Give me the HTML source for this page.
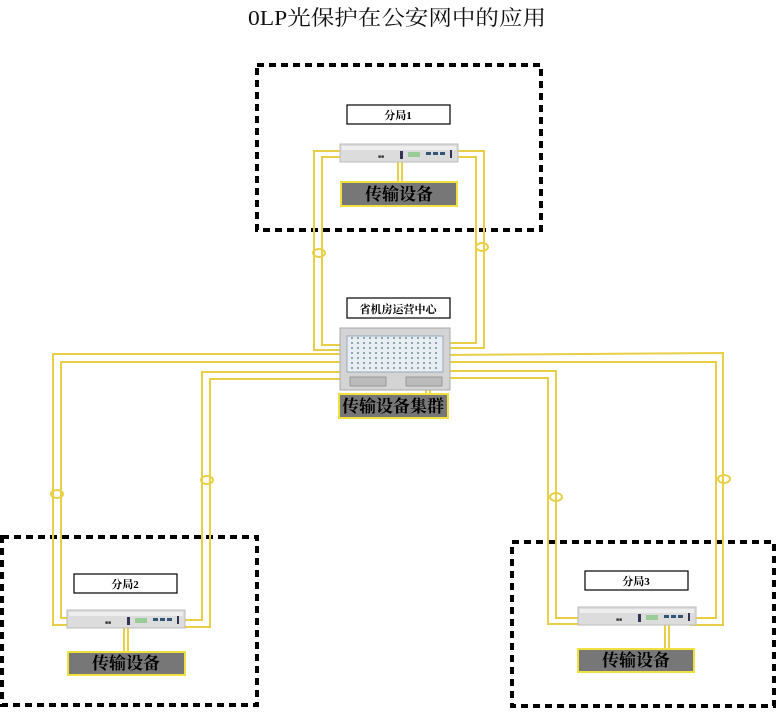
<!DOCTYPE html>
<html><head><meta charset="utf-8"><style>
html,body{margin:0;padding:0;background:#fff}
svg text{font-family:"Liberation Serif","Noto Serif CJK SC",serif}
</style></head><body>
<svg width="776" height="709" xmlns="http://www.w3.org/2000/svg">
<defs>
<g id="dev">
<rect x="0" y="0" width="118" height="18" fill="#dcdcdc" stroke="#bbb"/>
<rect x="2" y="2" width="114" height="4" fill="#eee"/>
<rect x="60" y="7" width="3" height="8" fill="#335"/>
<rect x="68" y="8" width="12" height="5" fill="#9c9"/>
<rect x="86" y="8" width="5" height="3" fill="#357"/><rect x="93" y="8" width="5" height="3" fill="#357"/><rect x="100" y="8" width="5" height="3" fill="#357"/>
<rect x="110" y="6" width="2" height="8" fill="#335"/>
<text x="38" y="14" font-size="5" fill="#333">■■</text>
</g>
</defs>
<text x="397" y="25" font-size="21" text-anchor="middle" fill="#111" textLength="298" lengthAdjust="spacingAndGlyphs">0LP光保护在公安网中的应用</text>
<g fill="none" stroke="#000" stroke-width="4" stroke-dasharray="7 5">
<rect x="257" y="65" width="284" height="165"/>
<rect x="2" y="537" width="255" height="168"/>
<rect x="512" y="542" width="262" height="164"/>
</g>
<g fill="none" stroke="#e9cf45" stroke-width="2">
<polyline points="370,151 314,151 314,350 370,350"/>
<polyline points="370,157 322,157 322,345 370,345"/>
<polyline points="430,151 484,151 484,348 432,348"/>
<polyline points="430,157 476,157 476,343 432,343"/>
<polyline points="380,354 53,354 53,625 110,625"/>
<polyline points="380,362 61,362 61,618 110,618"/>
<polyline points="380,372 202,372 202,620 165,620"/>
<polyline points="380,379 210,379 210,627 165,627"/>
<polyline points="440,355 723,353 723,625 690,625"/>
<polyline points="440,362 716,362 716,618 690,618"/>
<polyline points="440,371 556,371 556,618 630,618"/>
<polyline points="440,378 548,378 548,624 630,624"/>
<line x1="398" y1="157" x2="398" y2="181"/><line x1="402" y1="157" x2="402" y2="181"/>
<line x1="124" y1="622" x2="124" y2="651"/><line x1="128" y1="622" x2="128" y2="651"/>
<line x1="665" y1="620" x2="665" y2="648"/><line x1="669" y1="620" x2="669" y2="648"/>
<line x1="426" y1="368" x2="426" y2="393"/><line x1="430" y1="368" x2="430" y2="393"/>
<ellipse cx="319" cy="253" rx="6" ry="4"/><ellipse cx="482" cy="247" rx="6" ry="4"/>
<ellipse cx="57" cy="494" rx="6" ry="4"/><ellipse cx="207" cy="480" rx="6" ry="4"/>
<ellipse cx="556" cy="497" rx="6" ry="4"/><ellipse cx="724" cy="479" rx="6" ry="4"/>
</g>
<use href="#dev" x="340" y="144"/>
<use href="#dev" x="67" y="610"/>
<use href="#dev" x="578" y="607"/>
<rect x="340" y="328" width="110" height="62" fill="#d4d4d4" stroke="#aaa"/>
<rect x="347" y="336" width="96" height="36" fill="#e8eef3" stroke="#9ab"/>
<g stroke="#577" stroke-width="1.2">
<path d="M352 337v34M358 337v34M364 337v34M370 337v34M376 337v34M382 337v34M388 337v34M394 337v34M400 337v34M406 337v34M412 337v34M418 337v34M424 337v34M430 337v34M436 337v34" stroke-dasharray="2 3"/>
</g>
<rect x="350" y="377" width="36" height="9" fill="#bbb" stroke="#999"/>
<rect x="406" y="377" width="36" height="9" fill="#bbb" stroke="#999"/>
<g fill="#fff" stroke="#000" stroke-width="1.2">
<rect x="347" y="105" width="103" height="19"/>
<rect x="347" y="298" width="103" height="20"/>
<rect x="74" y="574" width="103" height="19"/>
<rect x="585" y="571" width="103" height="19"/>
</g>
<g font-size="11" font-weight="bold" text-anchor="middle" fill="#000">
<text x="398" y="119">分局1</text>
<text x="398" y="313">省机房运营中心</text>
<text x="125" y="588">分局2</text>
<text x="636" y="585">分局3</text>
</g>
<g fill="#777" stroke="#f0e040" stroke-width="2">
<rect x="341" y="182" width="116" height="24"/>
<rect x="339" y="394" width="109" height="24"/>
<rect x="68" y="652" width="117" height="23"/>
<rect x="578" y="649" width="116" height="23"/>
</g>
<g font-size="17" font-weight="bold" text-anchor="middle" fill="#000">
<text x="399" y="200">传输设备</text>
<text x="393" y="412">传输设备集群</text>
<text x="126" y="669">传输设备</text>
<text x="636" y="666">传输设备</text>
</g>
</svg>
</body></html>
